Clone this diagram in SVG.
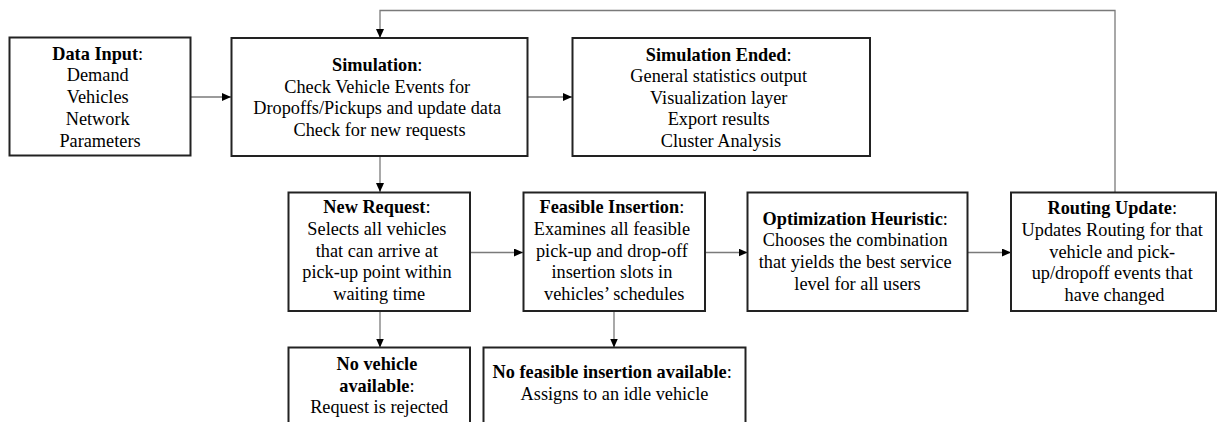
<svg xmlns="http://www.w3.org/2000/svg" width="1217" height="422" viewBox="0 0 1217 422">
  <style>
    .box { fill: #ffffff; stroke: #222222; stroke-width: 2; }
    .lbl { font-family: "Liberation Serif", "Times New Roman", serif; font-size: 18.3px; fill: #000000; text-anchor: middle; }
    .lbl .b { font-weight: bold; }
    .conn { fill: none; stroke: #7a7a7a; stroke-width: 1.3; }
  </style>
  <defs>
    <marker id="arrow" markerUnits="userSpaceOnUse" markerWidth="10" markerHeight="9" refX="9" refY="4" orient="auto">
      <path d="M0,0 L9,4 L0,8 z" fill="#000000"/>
    </marker>
  </defs>
  <rect width="1217" height="422" fill="#ffffff"/>

  <!-- connectors -->
  <g id="connectors">
    <line class="conn" x1="191" y1="97" x2="231" y2="97" marker-end="url(#arrow)"/>
    <line class="conn" x1="528" y1="97" x2="572" y2="97" marker-end="url(#arrow)"/>
    <line class="conn" x1="380" y1="156" x2="380" y2="192" marker-end="url(#arrow)"/>
    <line class="conn" x1="470" y1="252.5" x2="523" y2="252.5" marker-end="url(#arrow)"/>
    <line class="conn" x1="705" y1="252.5" x2="747.5" y2="252.5" marker-end="url(#arrow)"/>
    <line class="conn" x1="967" y1="252.5" x2="1011" y2="252.5" marker-end="url(#arrow)"/>
    <line class="conn" x1="380" y1="311" x2="380" y2="347.5" marker-end="url(#arrow)"/>
    <line class="conn" x1="614" y1="311" x2="614" y2="347.5" marker-end="url(#arrow)"/>
    <polyline class="conn" points="1115,192 1115,10.5 380,10.5 380,38" marker-end="url(#arrow)"/>
  </g>

  <!-- data input -->
  <g id="data-input">
    <rect class="box" x="9.5" y="37.5" width="181" height="118"/>
    <text class="lbl">
      <tspan x="100" y="59.5"><tspan class="b">Data Input</tspan>:</tspan>
      <tspan x="100" y="81.3">Demand</tspan>
      <tspan x="100" y="103.1">Vehicles</tspan>
      <tspan x="100" y="124.9">Network</tspan>
      <tspan x="100" y="146.7">Parameters</tspan>
    </text>
  </g>

  <!-- simulation -->
  <g id="simulation">
    <rect class="box" x="231.5" y="38" width="296" height="118"/>
    <text class="lbl">
      <tspan x="379.5" y="70.7"><tspan class="b">Simulation</tspan>:</tspan>
      <tspan x="379.5" y="92.5">Check Vehicle Events for</tspan>
      <tspan x="379.5" y="114.3">Dropoffs/Pickups and update data</tspan>
      <tspan x="379.5" y="136.1">Check for new requests</tspan>
    </text>
  </g>

  <!-- simulation ended -->
  <g id="simulation-ended">
    <rect class="box" x="572.5" y="38" width="297.5" height="118"/>
    <text class="lbl">
      <tspan x="721" y="60.5"><tspan class="b">Simulation Ended</tspan>:</tspan>
      <tspan x="721" y="82">General statistics output</tspan>
      <tspan x="721" y="103.5">Visualization layer</tspan>
      <tspan x="721" y="125">Export results</tspan>
      <tspan x="721" y="146.5">Cluster Analysis</tspan>
    </text>
  </g>

  <!-- new request -->
  <g id="new-request">
    <rect class="box" x="288.5" y="192.5" width="181.5" height="118.5"/>
    <text class="lbl">
      <tspan x="379.2" y="213"><tspan class="b">New Request</tspan>:</tspan>
      <tspan x="379.2" y="234.8">Selects all vehicles</tspan>
      <tspan x="379.2" y="256.6">that can arrive at</tspan>
      <tspan x="379.2" y="278.4">pick-up point within</tspan>
      <tspan x="379.2" y="300.2">waiting time</tspan>
    </text>
  </g>

  <!-- feasible insertion -->
  <g id="feasible-insertion">
    <rect class="box" x="523.5" y="192.5" width="181.5" height="118.5"/>
    <text class="lbl">
      <tspan x="614.2" y="213"><tspan class="b">Feasible Insertion</tspan>:</tspan>
      <tspan x="614.2" y="234.8">Examines all feasible</tspan>
      <tspan x="614.2" y="256.6">pick-up and drop-off</tspan>
      <tspan x="614.2" y="278.4">insertion slots in</tspan>
      <tspan x="614.2" y="300.2">vehicles’ schedules</tspan>
    </text>
  </g>

  <!-- optimization heuristic -->
  <g id="optimization-heuristic">
    <rect class="box" x="747.5" y="192.5" width="220" height="118.5"/>
    <text class="lbl">
      <tspan x="857.5" y="224.5"><tspan class="b">Optimization Heuristic</tspan>:</tspan>
      <tspan x="857.5" y="246.3">Chooses the combination</tspan>
      <tspan x="857.5" y="268.1">that yields the best service</tspan>
      <tspan x="857.5" y="289.9">level for all users</tspan>
    </text>
  </g>

  <!-- routing update -->
  <g id="routing-update">
    <rect class="box" x="1011" y="192.5" width="205" height="118.5"/>
    <text class="lbl">
      <tspan x="1114.5" y="214"><tspan class="b">Routing Update</tspan>:</tspan>
      <tspan x="1114.5" y="235.8">Updates Routing for that</tspan>
      <tspan x="1114.5" y="257.6">vehicle and pick-</tspan>
      <tspan x="1114.5" y="279.4">up/dropoff events that</tspan>
      <tspan x="1114.5" y="301.2">have changed</tspan>
    </text>
  </g>

  <!-- no vehicle available -->
  <g id="no-vehicle">
    <rect class="box" x="288.5" y="347.5" width="181.5" height="90"/>
    <text class="lbl">
      <tspan x="379.2" y="370" class="b">No vehicle</tspan>
      <tspan x="379.2" y="391.7"><tspan class="b">available</tspan>:</tspan>
      <tspan x="379.2" y="413.4">Request is rejected</tspan>
    </text>
  </g>

  <!-- no feasible insertion available -->
  <g id="no-feasible-insertion">
    <rect class="box" x="483.5" y="347.5" width="262" height="90"/>
    <text class="lbl">
      <tspan x="614.5" y="378.3"><tspan class="b">No feasible insertion available</tspan>:</tspan>
      <tspan x="614.5" y="399.5">Assigns to an idle vehicle</tspan>
    </text>
  </g>
</svg>
